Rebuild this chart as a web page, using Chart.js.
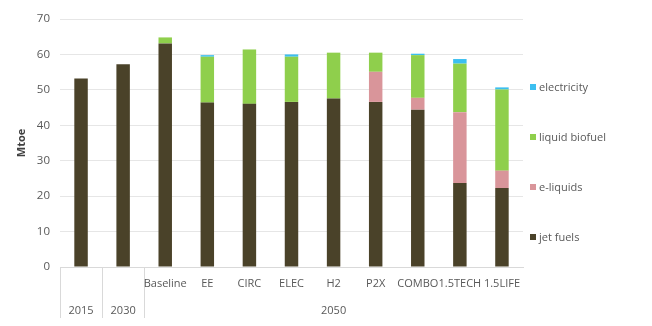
<!DOCTYPE html>
<html>
<head>
<meta charset="utf-8">
<script src="https://cdn.jsdelivr.net/npm/chart.js@4"></script>
<style>
  body { margin: 0; background: #fff; }
  .wrap { position: relative; width: 652px; height: 326px; }
  #legend { position: absolute; left: 530px; top: 0; font: 11px 'Open Sans', sans-serif; color: #595959; }
  #legend div { position: absolute; left: 0; white-space: nowrap; line-height: 14px; }
  #legend span { display: inline-block; width: 6px; height: 6px; margin-right: 3px; vertical-align: 1px; }
</style>
</head>
<body>
<div class="wrap">
  <canvas id="chart" width="652" height="326"></canvas>
  <div id="legend"></div>
</div>
<script>
// data (Mtoe)
const scenarios = ['2015', '2030', 'Baseline', 'EE', 'CIRC', 'ELEC', 'H2', 'P2X', 'COMBO', '1.5TECH', '1.5LIFE'];
const scenarioRow = ['', '', 'Baseline', 'EE', 'CIRC', 'ELEC', 'H2', 'P2X', 'COMBO', '1.5TECH', '1.5LIFE'];
const yearRow = ['2015', '2030', '', '', '', '', '2050', '', '', '', ''];

const jetFuels    = [53.2, 57.2, 63.1, 46.4, 46.05, 46.6, 47.55, 46.6, 44.4, 23.7, 22.3];
const eLiquids    = [0, 0, 0, 0, 0, 0, 0, 8.5, 3.35, 20.0, 4.9];
const bioFuel     = [0, 0, 1.7, 12.95, 15.35, 12.75, 12.95, 5.4, 12.05, 13.7, 22.9];
const electricity = [0, 0, 0, 0.45, 0, 0.65, 0, 0, 0.4, 1.3, 0.6];

const yTicks = [0, 10, 20, 30, 40, 50, 60, 70];

// lines under the axis: left edge, after 2015, after 2030, right edge
const tableLines = [0, 1, 2, scenarios.length];

const datasets = [
    { label: 'jet fuels', data: jetFuels, backgroundColor: '#4a4229' },
    { label: 'e-liquids', data: eLiquids, backgroundColor: '#d9959a' },
    { label: 'liquid biofuel', data: bioFuel, backgroundColor: '#8fcf4c' },
    { label: 'electricity', data: electricity, backgroundColor: '#3cbff0' }
];

const chart = new Chart(document.getElementById('chart').getContext('2d'), {
    type: 'bar',
    data: {
        labels: scenarios.map((s, i) => [scenarioRow[i], yearRow[i]]),
        datasets: datasets
    },
    options: {
        responsive: false,
        animation: false,
        layout: { padding: { top: 19, right: 129, bottom: 0, left: 0 } },
        datasets: { bar: { categoryPercentage: 1, barPercentage: 0.32 } },
        plugins: { legend: { display: false }, tooltip: { enabled: false } },
        scales: {
            x: {
                stacked: true,
                afterFit: s => { s.height = 59 },
                border: { color: '#d9d9d9' },
                grid: {
                    offset: true,
                    drawOnChartArea: false,
                    tickLength: 51,
                    color: c => tableLines.includes(c.index) ? '#d9d9d9' : 'rgba(0,0,0,0)'
                },
                ticks: {
                    color: '#595959',
                    font: { family: 'Open Sans', size: 11, lineHeight: '27px' },
                    padding: -48,
                    maxRotation: 0,
                    autoSkip: false
                }
            },
            y: {
                stacked: true,
                min: 0,
                max: 70,
                afterFit: s => { s.width = 60 },
                afterBuildTicks: s => { s.ticks = yTicks.map(v => ({ value: v })) },
                border: { display: false },
                grid: { color: '#e6e6e6', drawTicks: false },
                ticks: { color: '#595959', font: { family: 'Open Sans', size: 11.5 }, padding: 10 },
                title: {
                    display: true,
                    text: 'Mtoe',
                    color: '#404040',
                    font: { family: 'Open Sans', size: 11, weight: 'bold' },
                    padding: { top: 15, bottom: 0 }
                }
            }
        }
    }
});

// legend on the right, reversed order like the original
const legend = document.getElementById('legend');
[...datasets].reverse().forEach((d, i) => {
    const item = document.createElement('div');
    item.style.top = (80 + i * 50) + 'px';
    item.innerHTML = '<span style="background:' + d.backgroundColor + '"></span>' + d.label;
    legend.appendChild(item);
});
</script>
</body>
</html>
